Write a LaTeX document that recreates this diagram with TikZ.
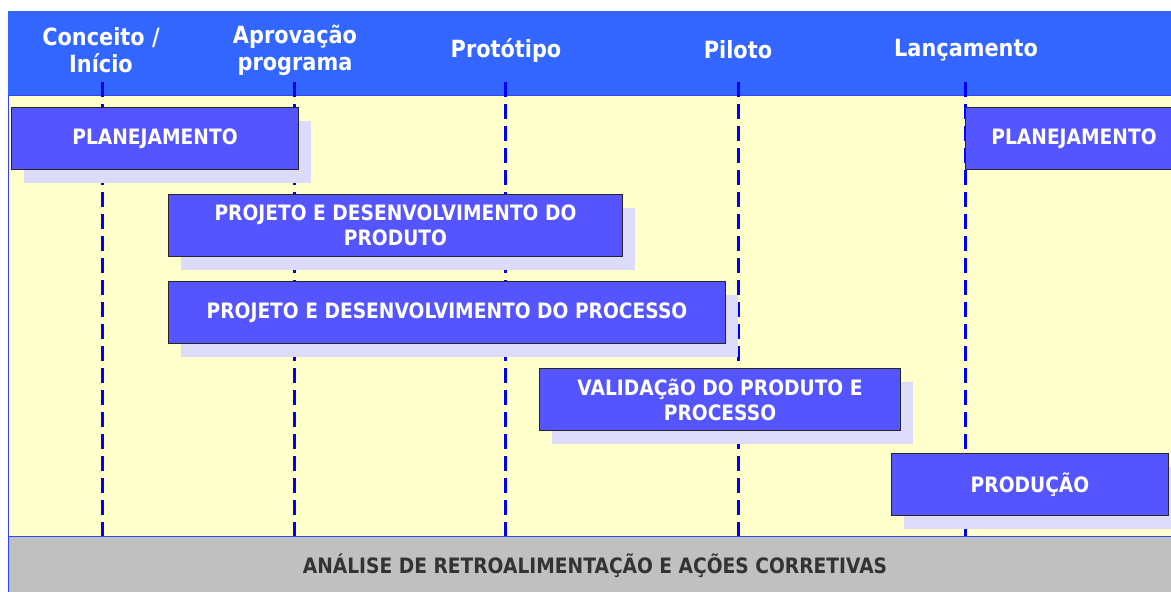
\documentclass[tikz,border=0pt]{standalone}
\usepackage{fontspec}
\setmainfont{DejaVu Sans}[FakeStretch=0.88]
\usetikzlibrary{shadows}
\definecolor{hdrblue}{HTML}{3366FF}
\definecolor{boxblue}{HTML}{5555FF}
\definecolor{shadowc}{HTML}{DCDCFA}
\definecolor{bgyellow}{HTML}{FFFFCC}
\definecolor{bandgray}{HTML}{C0C0C0}
\definecolor{linblue}{HTML}{0000FF}
\definecolor{edgeblue}{HTML}{3344FF}
\definecolor{bandtext}{HTML}{333333}
\begin{document}
\begin{tikzpicture}[x=1pt,y=-1pt,
  phasebase/.style={draw=black!85, line width=1pt, fill=boxblue, text=white,
    font=\bfseries\fontsize{21.2}{25}\selectfont, align=center, inner sep=0pt,
    anchor=north west, minimum height=62pt},
  phase/.style={phasebase,
    drop shadow={shadow xshift=12pt, shadow yshift=-13pt, fill=shadowc, opacity=1, draw=none}},
  hdr/.style={text=white, font=\bfseries\fontsize{23.7}{27}\selectfont, align=center, inner sep=0pt},
  milestone/.style={draw=linblue, line width=3pt, dash pattern=on 15pt off 7pt}
]
\useasboundingbox (0,0) rectangle (1171,592);
\clip (0,0) rectangle (1171,592);
% backgrounds
\fill[white] (0,0) rectangle (1171,592);
\fill[hdrblue] (8,11) rectangle (1180,95);
\filldraw[fill=bgyellow, draw=edgeblue, line width=1pt] (8.5,95) rectangle (1180,536);
\filldraw[fill=bandgray, draw=edgeblue, line width=1pt] (8.5,536) rectangle (1180,600);
% header labels
\node[hdr] (h1) at (101,50.5) {Conceito /\\Início};
\node[hdr] (h2) at (295,50.5) {Aprovação\\programa};
\node[hdr] (h3) at (506,50) {Protótipo};
\node[hdr] (h4) at (738,50) {Piloto};
\node[hdr] (h5) at (966,50) {Lançamento};
% milestone lines
\foreach \i/\x in {1/102,2/294,3/505,4/738,5/965}{
  \coordinate (t\i) at (\x,82);
  \coordinate (b\i) at (\x,536);
  \draw[milestone] (t\i) -- (b\i);
}
% phase boxes
\node[phase, minimum width=287pt] (plan1) at (11,107) {PLANEJAMENTO};
\node[phasebase, minimum width=217pt] (plan2) at (965,107) {PLANEJAMENTO};
\node[phase, minimum width=454pt] (prod) at (168,194) {PROJETO E DESENVOLVIMENTO DO\\PRODUTO};
\node[phase, minimum width=557pt] (proc) at (168,281) {PROJETO E DESENVOLVIMENTO DO PROCESSO};
\node[phase, minimum width=361pt] (valid) at (539,368) {VALIDAÇãO DO PRODUTO E\\PROCESSO};
\node[phase, minimum width=277pt] (prodc) at (891,453) {PRODUÇÃO};
% bottom band label
\node[text=bandtext, font=\bfseries\fontsize{21.2}{25}\selectfont, inner sep=0pt] (band) at (595,566) {ANÁLISE DE RETROALIMENTAÇÃO E AÇÕES CORRETIVAS};
\end{tikzpicture}
\end{document}
